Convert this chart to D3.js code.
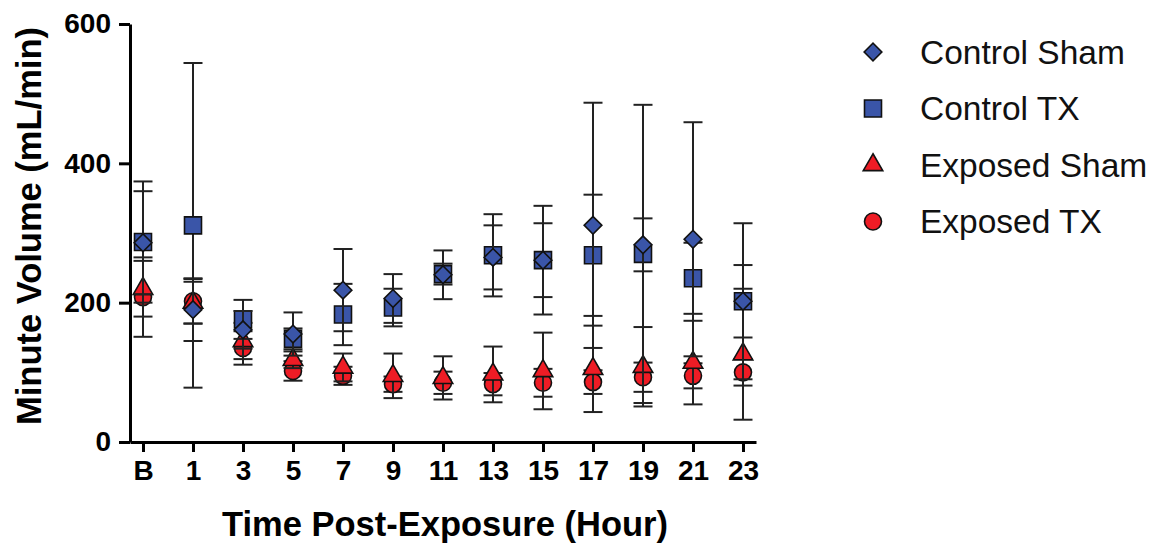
<!DOCTYPE html>
<html>
<head>
<meta charset="utf-8">
<script src="https://cdn.jsdelivr.net/npm/d3@7"></script>
<style>
  body { margin: 0; background: #fff; }
  text { font-family: "Liberation Sans", Arial, sans-serif; }
</style>
</head>
<body>
<div id="chart"></div>
<script>
// Time points (B = baseline)
const categories = ["B", "1", "3", "5", "7", "9", "11", "13", "15", "17", "19", "21", "23"];

// Means and error bar half-lengths (mL/min)
const controlShamMean = [286, 190, 161, 155, 218, 206, 240, 265, 261, 311, 283, 291, 202];
const controlShamErr  = [74, 45, 27, 31, 59, 35, 35, 46, 53, 176, 38, 168, 52];
const controlTxMean   = [287, 311, 176, 148, 183, 193, 241, 268, 261, 268, 270, 235, 202];
const controlTxErr    = [87, 233, 28, 15, 44, 27, 15, 59, 78, 87, 214, 51, 112];
const exposedShamMean = [220, 200, 145, 118, 107, 95, 92, 97, 102, 105, 108, 114, 126];
const exposedShamErr  = [40, 30, 26, 12, 20, 32, 31, 40, 55, 62, 57, 60, 94];
const exposedTxMean   = [208, 202, 135, 102, 95, 83, 85, 83, 85, 86, 93, 95, 100];
const exposedTxErr    = [57, 32, 24, 14, 13, 11, 16, 16, 20, 17, 21, 18, 19];

const yTicks = [0, 200, 400, 600];

const width = 1163, height = 546;
const blue = "#3a55a8", red = "#ee1c25";

const svg = d3.select("#chart").append("svg")
    .attr("width", width)
    .attr("height", height);

// scales
const x = d3.scalePoint()
    .domain(categories)
    .range([130, 756])
    .padding(0.26);

const y = d3.scaleLinear()
    .domain([0, 600])
    .range([442, 24]);

// series list, drawn back to front
const series = [
    { name: "Exposed TX", mean: exposedTxMean, err: exposedTxErr, color: red, shape: "circle" },
    { name: "Exposed Sham", mean: exposedShamMean, err: exposedShamErr, color: red, shape: "triangle" },
    { name: "Control TX", mean: controlTxMean, err: controlTxErr, color: blue, shape: "square" },
    { name: "Control Sham", mean: controlShamMean, err: controlShamErr, color: blue, shape: "diamond" }
];

function symbolPath(shape) {
    if (shape === "circle") return d3.symbol(d3.symbolCircle, Math.PI * 8.5 * 8.5)();
    if (shape === "triangle") return d3.symbol(d3.symbolTriangle, 165)();
    if (shape === "square") return d3.symbol(d3.symbolSquare, 17 * 17)();
    return d3.symbol(d3.symbolSquare, 12.5 * 12.5)(); // rotated below
}

function drawMarker(g, shape, color, cx, cy) {
    g.append("path")
        .attr("d", symbolPath(shape))
        .attr("transform", `translate(${cx},${cy})` + (shape === "diamond" ? " rotate(45)" : ""))
        .attr("fill", color)
        .attr("stroke", "#111")
        .attr("stroke-width", 1.6);
}

const plot = svg.append("g");
const capW = 9.5;

series.forEach(s => {
    const g = plot.append("g");
    categories.forEach((c, i) => {
        const cx = x(c);
        const hi = y(s.mean[i] + s.err[i]);
        const lo = y(Math.max(0, s.mean[i] - s.err[i]));
        g.append("line").attr("x1", cx).attr("x2", cx).attr("y1", hi).attr("y2", lo)
            .attr("stroke", "#222").attr("stroke-width", 2);
        [hi, lo].forEach(v => {
            g.append("line").attr("x1", cx - capW).attr("x2", cx + capW).attr("y1", v).attr("y2", v)
                .attr("stroke", "#222").attr("stroke-width", 2);
        });
    });
    categories.forEach((c, i) => drawMarker(g, s.shape, s.color, x(c), y(s.mean[i])));
});

// axes
const xAxis = svg.append("g")
    .attr("transform", "translate(0,442)")
    .call(d3.axisBottom(x).tickSize(10).tickSizeOuter(0).tickPadding(8));

const yAxis = svg.append("g")
    .attr("transform", "translate(130,0)")
    .call(d3.axisLeft(y).tickValues(yTicks).tickSize(11).tickSizeOuter(0).tickPadding(8));

[xAxis, yAxis].forEach(a => {
    a.selectAll("path, line").attr("stroke", "#000").attr("stroke-width", 3);
    a.selectAll("text")
        .attr("fill", "#000")
        .style("font-family", "'Liberation Sans', Arial, sans-serif")
        .style("font-size", "28px")
        .style("font-weight", "bold");
});

// axis titles
svg.append("text")
    .attr("x", 445)
    .attr("y", 536)
    .attr("text-anchor", "middle")
    .style("font-size", "34.5px")
    .style("font-weight", "bold")
    .text("Time Post-Exposure (Hour)");

svg.append("text")
    .attr("transform", "translate(41,226) rotate(-90)")
    .attr("text-anchor", "middle")
    .style("font-size", "34.5px")
    .style("font-weight", "bold")
    .text("Minute Volume (mL/min)");

// legend
const legendItems = [series[3], series[2], series[1], series[0]];
const legend = svg.append("g");
legendItems.forEach((s, i) => {
    const ly = 52 + i * 56.5;
    drawMarker(legend, s.shape, s.color, 873, ly);
    legend.append("text")
        .attr("x", 920)
        .attr("y", ly)
        .attr("dy", "0.35em")
        .style("font-size", "33.5px")
        .attr("fill", "#111")
        .text(s.name);
});
</script>
</body>
</html>
